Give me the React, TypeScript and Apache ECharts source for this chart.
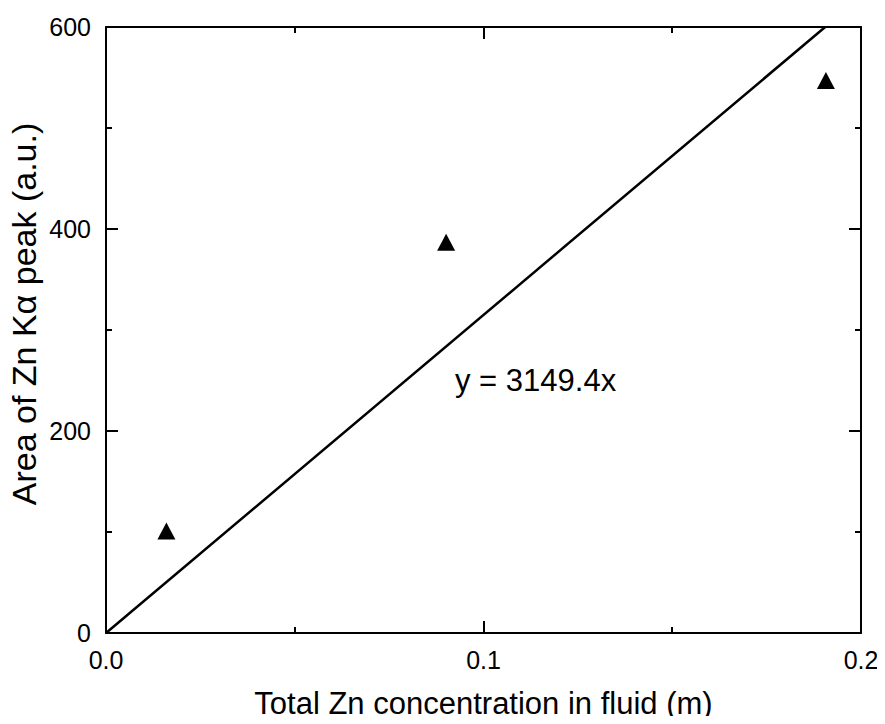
import React, { useEffect, useRef } from "react";
import * as echarts from "echarts";

const concentration = [0.016, 0.0901, 0.1907];
const peakArea = [101, 387, 547];
const slope = 3149.4;
const xTicks = [0, 0.1, 0.2];
const yTicks = [0, 200, 400, 600];
const xTitle = "Total Zn concentration in fluid (m)";
const yTitle = "Area of Zn K\u03B1 peak (a.u.)";
const fitLabel = "y = 3149.4x";

const FONT = "'Liberation Sans', Arial, Helvetica, sans-serif";

export default function App() {
  const ref = useRef<HTMLDivElement>(null);
  useEffect(() => {
    if (!ref.current) return;
    const chart = echarts.init(ref.current, undefined, { renderer: "svg" });
    const yMax = yTicks[yTicks.length - 1];
    const axisCommon = {
      type: "value" as const,
      axisLine: { show: true, onZero: false, lineStyle: { color: "#000", width: 2 } },
      axisTick: { show: true, inside: true, length: 12, lineStyle: { color: "#000", width: 2 } },
      minorTick: { show: true, splitNumber: 2, length: 6, lineStyle: { color: "#000", width: 2 } },
      splitLine: { show: false },
    };
    const xBase = { ...axisCommon, min: xTicks[0], max: xTicks[xTicks.length - 1], interval: 0.1 };
    const yBase = { ...axisCommon, min: yTicks[0], max: yMax, interval: 200 };
    chart.setOption({
      animation: false,
      backgroundColor: "#fff",
      grid: { left: 106, right: 24, top: 27, bottom: 91 },
      xAxis: [
        {
          ...xBase,
          position: "bottom",
          name: xTitle,
          nameLocation: "middle",
          nameGap: 55,
          nameTextStyle: { fontFamily: FONT, fontSize: 31, color: "#000" },
          axisLabel: {
            fontFamily: FONT,
            fontSize: 25,
            color: "#000",
            margin: 14,
            formatter: (v: number) => v.toFixed(1),
          },
        },
        { ...xBase, position: "top", axisLabel: { show: false } },
      ],
      yAxis: [
        {
          ...yBase,
          position: "left",
          axisLabel: { fontFamily: FONT, fontSize: 25, color: "#000", margin: 15 },
        },
        { ...yBase, position: "right", axisLabel: { show: false } },
      ],
      graphic: [
        {
          type: "text",
          left: 455,
          top: 365,
          style: { text: fitLabel, fontFamily: FONT, fontSize: 31, fill: "#000" },
        },
        {
          type: "text",
          x: 24,
          y: 314,
          rotation: Math.PI / 2,
          style: {
            text: yTitle,
            fontFamily: FONT,
            fontSize: 34,
            fill: "#000",
            align: "center",
            verticalAlign: "middle",
          },
        },
      ],
      series: [
        {
          type: "line",
          data: [
            [0, 0],
            [yMax / slope, yMax],
          ],
          showSymbol: false,
          symbol: "none",
          lineStyle: { color: "#000", width: 2.5 },
          silent: true,
        },
        {
          type: "scatter",
          data: concentration.map((c, i) => [c, peakArea[i]]),
          symbol: "triangle",
          symbolSize: [18, 17],
          itemStyle: { color: "#000", opacity: 1 },
        },
      ],
    });
    return () => chart.dispose();
  }, []);
  return <div ref={ref} style={{ width: 885, height: 724, margin: -8 }} />;
}
